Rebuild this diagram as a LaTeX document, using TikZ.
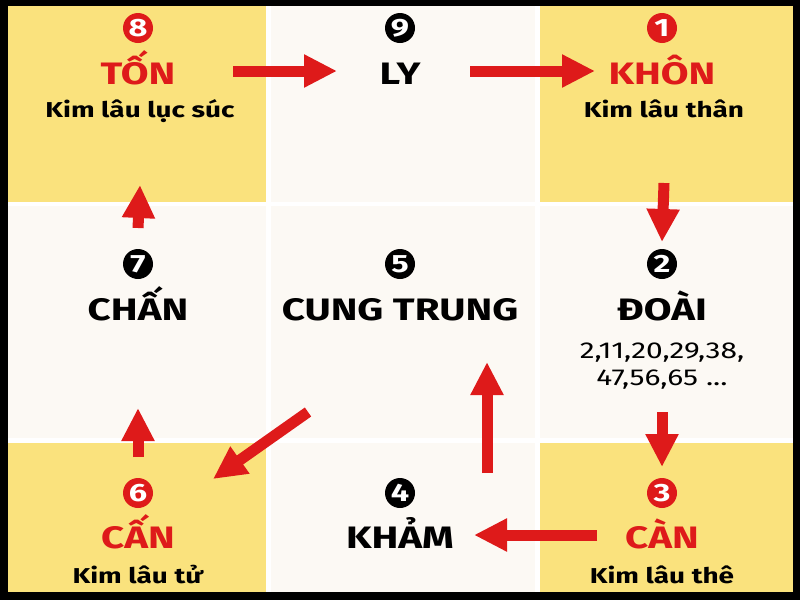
\documentclass[tikz,border=0pt]{standalone}
\usepackage{fontspec}
\setmainfont{Fira Sans}[FakeStretch=1.3]
\usetikzlibrary{arrows.meta}
\definecolor{jaune}{RGB}{250,226,125}
\definecolor{creme}{RGB}{252,249,244}
\definecolor{rouge}{RGB}{222,26,26}

\begin{document}
\begin{tikzpicture}[x=1pt, y=-1pt]
\tikzset{rond/.style={circle, fill=black, text=white, inner sep=0pt, minimum size=30pt, font=\fontsize{25}{25}\selectfont\bfseries},
nom/.style={inner sep=0pt, anchor=base, font=\fontsize{31}{31}\selectfont\bfseries},
sous/.style={inner sep=0pt, anchor=base, font=\fontsize{21.5}{21.5}\selectfont\bfseries},
liste/.style={inner sep=0pt, anchor=base, font=\fontsize{23}{23}\selectfont},
fleche/.style={draw=rouge, line width=11pt, -{Triangle[length=33pt,width=31pt]}}}
\useasboundingbox (0,0) rectangle (800,600);
\fill[black] (0,0) rectangle (800,600);
\fill[white] (8,6) rectangle (793,592);
\fill[jaune] (8,6) rectangle (266,202);
\fill[creme] (271,6) rectangle (535,202);
\fill[jaune] (540,6) rectangle (793,202);
\fill[creme] (8,206) rectangle (266,438);
\fill[creme] (271,206) rectangle (535,438);
\fill[creme] (540,206) rectangle (793,438);
\fill[jaune] (8,443) rectangle (266,592);
\fill[creme] (271,443) rectangle (535,592);
\fill[jaune] (540,443) rectangle (793,592);
% haut
\node[rond, fill=rouge] (n8) at (138,28) {8};
\node[nom, text=rouge] (ton) at (138,84) {TỐN};
\node[sous] (suc) at (140,117) {Kim lâu lục súc};
\node[rond] (n9) at (400,28) {9};
\node[nom] (ly) at (400,84) {LY};
\node[rond, fill=rouge] (n1) at (662,28) {1};
\node[nom, text=rouge] (khon) at (662,84) {KHÔN};
\node[sous] (than) at (664,117) {Kim lâu thân};
% milieu
\node[rond] (n7) at (138,264) {7};
\node[nom] (chan) at (138,320) {CHẤN};
\node[rond] (n5) at (400,264) {5};
\node[nom] (cung) at (400,320) {CUNG TRUNG};
\node[rond] (n2) at (662,264) {2};
\node[nom] (doai) at (662,320) {ĐOÀI};
\node[liste] (l1) at (662,358) {2,11,20,29,38,};
\node[liste] (l2) at (662,385) {47,56,65 ...};
% bas
\node[rond, fill=rouge] (n6) at (138,493) {6};
\node[nom, text=rouge] (canl) at (138,548) {CẤN};
\node[sous] (tu) at (138,583) {Kim lâu tử};
\node[rond] (n4) at (400,493) {4};
\node[nom] (kham) at (400,548) {KHẢM};
\node[rond, fill=rouge] (n3) at (662,493) {3};
\node[nom, text=rouge] (can) at (662,548) {CÀN};
\node[sous] (the) at (662,583) {Kim lâu thê};
% fleches
\draw[fleche] ([shift={(95,-13)}]ton.base) -- ([shift={(-63,-13)}]ly.base);
\draw[fleche] ([shift={(70,-13)}]ly.base) -- ([shift={(-67,-13)}]khon.base);
\draw[fleche] ([shift={(0,66)}]than.base) -- ([shift={(0,-22)}]n2.center);
\draw[fleche] ([shift={(0,92)}]doai.base) -- ([shift={(0,-26)}]n3.center);
\draw[fleche] ([shift={(-65,-13)}]can.base) -- ([shift={(74,-13)}]kham.base);
\draw[fleche] ([shift={(87,-75)}]kham.base) -- ([shift={(87,42)}]cung.base);
\draw[fleche] ([shift={(-92,92)}]cung.base) -- ([shift={(75,-69)}]canl.base);
\draw[fleche] ([shift={(0,-36)}]n6.center) -- ([shift={(0,88)}]chan.base);
\draw[fleche] ([shift={(0,-36)}]n7.center) -- ([shift={(0,68)}]suc.base);
\end{tikzpicture}
\end{document}
